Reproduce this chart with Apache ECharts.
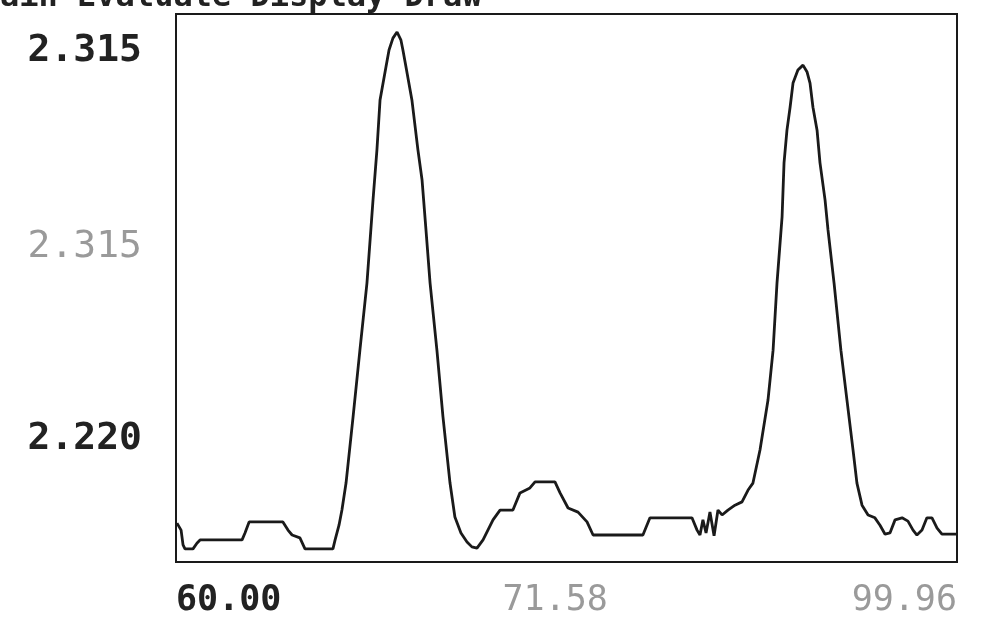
<!DOCTYPE html>
<html>
<head>
<meta charset="utf-8">
<script src="https://cdn.jsdelivr.net/npm/echarts@6/dist/echarts.min.js"></script>
<style>
html,body{margin:0;padding:0;background:#fff;}
#chart{width:983px;height:620px;}
</style>
</head>
<body>
<div id="chart"></div>
<script>
// Trace (x in minutes, y in signal units)
const traceX = [60.05,60.26,60.36,60.46,60.87,61.07,61.23,63.38,63.53,63.74,65.47,65.73,65.94,66.34,66.60,68.03,68.14,68.34,68.49,68.70,69.06,69.41,69.77,70.08,70.28,70.44,70.74,70.90,71.10,71.31,71.51,71.61,71.77,72.07,72.38,72.59,72.79,73.00,73.35,73.66,74.02,74.27,74.58,74.89,75.14,75.40,75.71,76.22,76.58,77.24,77.60,78.11,78.37,79.39,79.65,80.06,80.57,81.03,81.34,83.89,84.25,86.40,86.66,86.81,86.96,87.12,87.32,87.53,87.73,87.94,88.24,88.60,88.96,89.27,89.52,89.88,90.29,90.55,90.75,91.01,91.11,91.26,91.42,91.57,91.82,92.08,92.29,92.44,92.59,92.80,92.95,93.21,93.36,93.67,94.02,94.33,94.64,94.84,95.10,95.41,95.76,96.02,96.28,96.53,96.79,97.15,97.45,97.71,97.91,98.17,98.42,98.68,98.94,99.19,99.91];
const traceY = [2.1995,2.1978,2.1942,2.1932,2.1932,2.1946,2.1954,2.1954,2.1971,2.1998,2.1998,2.1978,2.1966,2.1959,2.1932,2.1932,2.1954,2.1990,2.2027,2.2093,2.2255,2.2418,2.2582,2.2785,2.2907,2.3030,2.3110,2.3152,2.3181,2.3196,2.3176,2.3152,2.3110,2.3030,2.2907,2.2834,2.2712,2.2582,2.2418,2.2255,2.2093,2.2010,2.1971,2.1949,2.1937,2.1934,2.1954,2.2003,2.2027,2.2027,2.2069,2.2081,2.2096,2.2096,2.2069,2.2032,2.2022,2.1998,2.1966,2.1966,2.2008,2.2008,2.1978,2.1966,2.2003,2.1971,2.2022,2.1964,2.2027,2.2015,2.2027,2.2039,2.2047,2.2076,2.2093,2.2174,2.2296,2.2418,2.2582,2.2744,2.2876,2.2956,2.3012,2.3071,2.3103,2.3115,2.3098,2.3071,2.3012,2.2956,2.2876,2.2785,2.2712,2.2582,2.2418,2.2296,2.2174,2.2093,2.2039,2.2015,2.2008,2.1990,2.1968,2.1971,2.2003,2.2008,2.2000,2.1978,2.1966,2.1978,2.2008,2.2008,2.1983,2.1968,2.1968];

const xTickValues = [60, 79.4, 99.96];
const xTickLabels = ['60.00', '71.58', '99.96'];
const xTickStyle = ['b', 'l', 'l'];
const yTickValues = [2.220, 2.267, 2.315];
const yTickLabels = ['2.220', '2.315', '2.315'];
const yTickStyle = ['b', 'l', 'b'];
const titleText = 'ain Evaluate Display Draw';

const data = traceX.map((x, i) => [x, traceY[i]]);
const mono = '"DejaVu Sans Mono", "Liberation Mono", monospace';

const chart = echarts.init(document.getElementById('chart'));
chart.setOption({
  backgroundColor: '#ffffff',
  animation: false,
  graphic: [{
    type: 'text', left: 0, top: -18,
    style: { text: titleText, font: 'bold 32px ' + mono, fill: '#222' }
  }],
  grid: { left: 176, right: 26, top: 14, bottom: 58, show: true, borderColor: '#1a1a1a', borderWidth: 2, backgroundColor: 'transparent' },
  xAxis: {
    type: 'value', min: 60, max: 99.96,
    axisLine: { show: false }, axisTick: { show: false }, splitLine: { show: false },
    axisLabel: {
      customValues: xTickValues,
      margin: 21,
      alignMinLabel: 'left', alignMaxLabel: 'right',
      formatter: v => { const i = xTickValues.indexOf(v); return i < 0 ? '' : '{' + xTickStyle[i] + '|' + xTickLabels[i] + '}'; },
      rich: {
        b: { fontFamily: mono, fontSize: 35, fontWeight: 'bold', color: '#222' },
        l: { fontFamily: mono, fontSize: 35, fontWeight: 'normal', color: '#9a9a9a' }
      }
    }
  },
  yAxis: {
    type: 'value', min: 2.190, max: 2.324,
    axisLine: { show: false }, axisTick: { show: false }, splitLine: { show: false },
    axisLabel: {
      customValues: yTickValues,
      margin: 34,
      formatter: v => { const i = yTickValues.indexOf(v); return i < 0 ? '' : '{' + yTickStyle[i] + '|' + yTickLabels[i] + '}'; },
      rich: {
        b: { fontFamily: mono, fontSize: 38, fontWeight: 'bold', color: '#222' },
        l: { fontFamily: mono, fontSize: 38, fontWeight: 'normal', color: '#9a9a9a' }
      }
    }
  },
  series: [{
    type: 'line', data: data, symbol: 'none', smooth: false,
    lineStyle: { color: '#1a1a1a', width: 2.8 }
  }]
});
</script>
</body>
</html>
